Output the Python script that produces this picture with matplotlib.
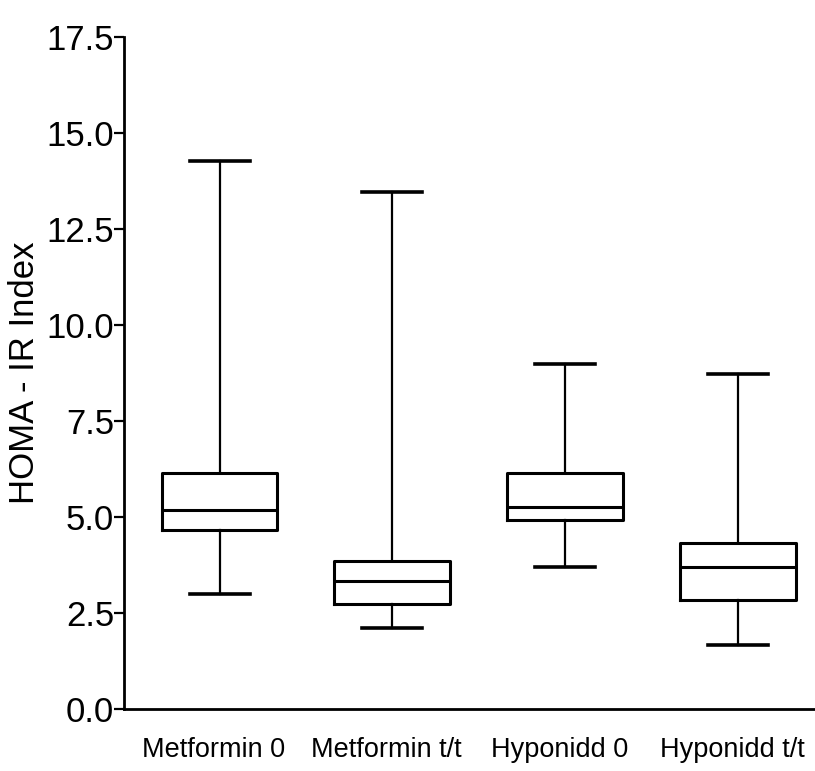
import matplotlib
matplotlib.use("Agg")
import matplotlib.pyplot as plt
import matplotlib.transforms as mtransforms

categories = ["Metformin 0", "Metformin t/t", "Hyponidd 0", "Hyponidd t/t"]
whislo = [2.99, 2.12, 3.69, 1.67]
q1 = [4.66, 2.73, 4.92, 2.84]
med = [5.18, 3.34, 5.27, 3.69]
q3 = [6.15, 3.86, 6.15, 4.31]
whishi = [14.26, 13.46, 8.98, 8.72]
yticks = [0.0, 2.5, 5.0, 7.5, 10.0, 12.5, 15.0, 17.5]
ytick_labels = ["0.0", "2.5", "5.0", "7.5", "10.0", "12.5", "15.0", "17.5"]
ylabel = "HOMA - IR Index"

plt.rcParams["font.family"] = ["Liberation Sans", "DejaVu Sans"]

fig = plt.figure(figsize=(8.15, 7.71), dpi=100)
ax = fig.add_axes([124 / 815, 62 / 771, 1 - 124 / 815, 672 / 771])

stats = []
for i, c in enumerate(categories):
    stats.append(dict(label=c, whislo=whislo[i], q1=q1[i], med=med[i],
                      q3=q3[i], whishi=whishi[i], fliers=[]))

ax.bxp(stats, positions=[1, 2, 3, 4], widths=0.67, capwidths=0.347,
       showfliers=False, patch_artist=False,
       boxprops=dict(color="black", linewidth=2.2),
       medianprops=dict(color="black", linewidth=2.2),
       whiskerprops=dict(color="black", linewidth=1.6),
       capprops=dict(color="black", linewidth=2.6))

ax.set_xlim(0.447, 4.446)
ax.set_ylim(0, 17.5)
ax.set_yticks(yticks)
ax.set_yticklabels(ytick_labels, fontsize=25)
ax.set_xticks([1, 2, 3, 4])
ax.set_xticklabels(categories, fontsize=19.5)
ax.tick_params(axis="x", length=0, pad=20)
ax.tick_params(axis="y", length=7, width=1.6, pad=0, direction="out")
offset = mtransforms.ScaledTranslation(-6 / 100, 0, fig.dpi_scale_trans)
for lbl in ax.get_xticklabels():
    lbl.set_transform(lbl.get_transform() + offset)

for s in ["top", "right"]:
    ax.spines[s].set_visible(False)
for s in ["left", "bottom"]:
    ax.spines[s].set_linewidth(2.0)

ax.set_ylabel(ylabel, fontsize=25)
ax.yaxis.set_label_coords((41 - 124) / (815 - 124), 0.5)

fig.savefig("out.png", dpi=100)
